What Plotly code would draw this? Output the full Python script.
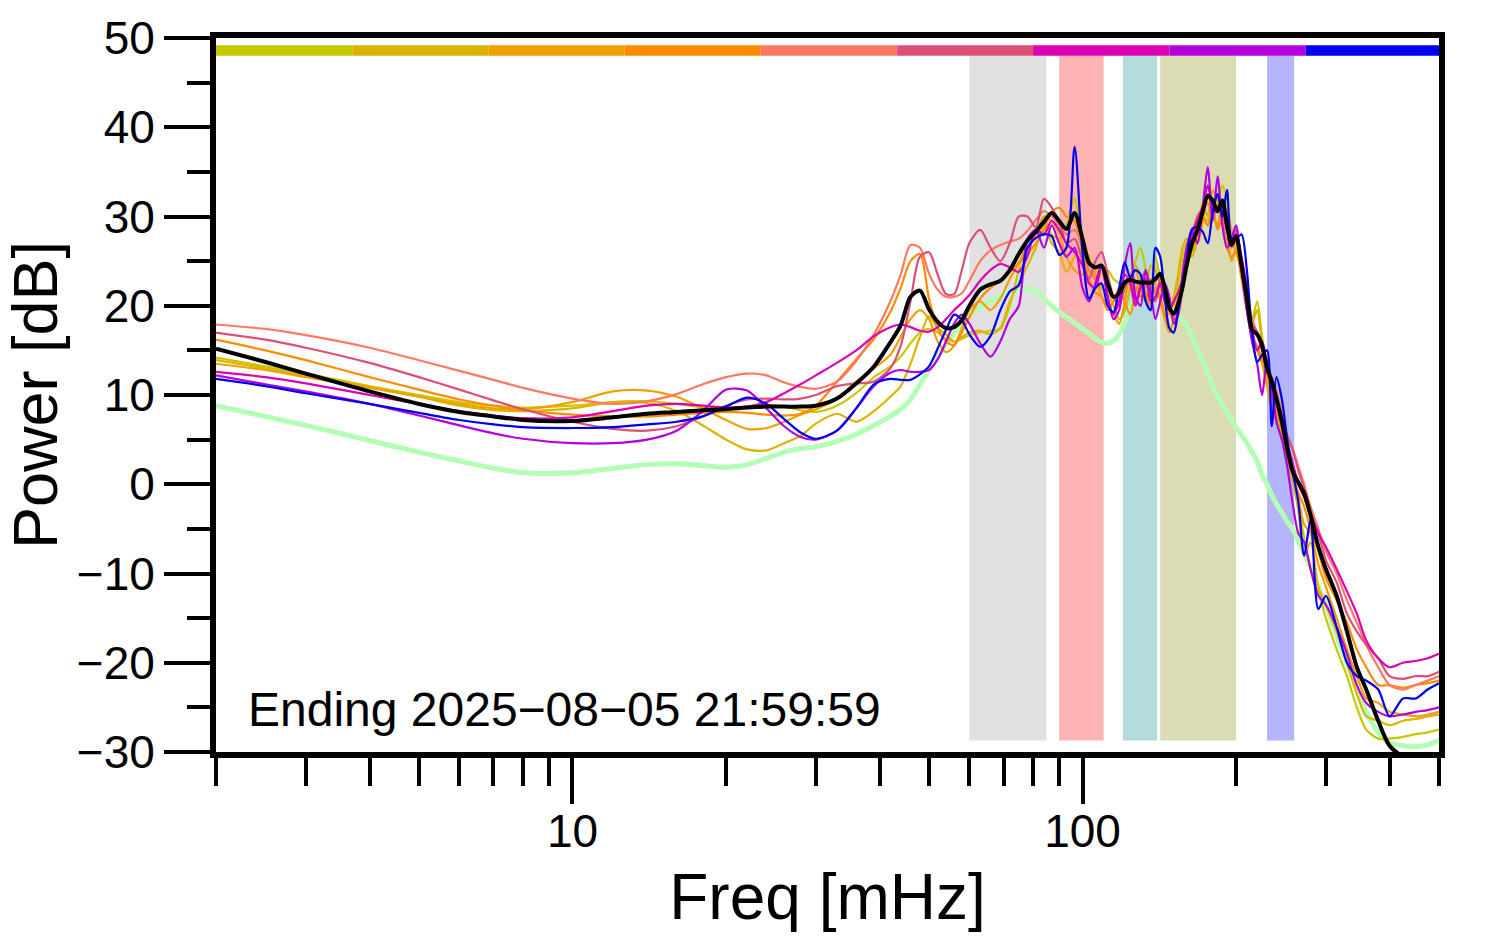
import math
import plotly.graph_objects as go

# ---------------- data ----------------
FREQ = [2, 2.5, 3, 4, 5, 6, 7, 8, 10, 12, 14, 16, 18, 20, 22, 24, 26, 28, 30, 33, 36, 39,
        42, 44, 46, 48, 50, 52, 54, 56, 58, 60, 63, 66, 69, 72, 75, 78, 81, 84, 87, 90, 93, 96.5,
        100, 103, 106, 109, 112, 115, 118, 121, 124, 127, 130, 133, 136, 139, 142, 145, 148, 151, 154, 157,
        160, 164, 168, 172, 176, 180, 184, 188, 192, 196, 200, 205, 210, 215, 220, 225, 230, 235, 240, 246,
        252, 258, 265, 272, 280, 290, 300, 315, 330, 345, 360, 380, 400, 425, 450, 475, 500]

MEAN = [15.2, 13.7, 12.4, 10.4, 9.0, 8.1, 7.6, 7.2, 7.1, 7.5, 7.9, 8.1, 8.3, 8.4, 8.6, 8.7, 8.7, 8.7, 8.8, 9.6, 11.3, 13.2,
        15.9, 17.8, 21.0, 21.7, 19.6, 18.2, 17.5, 17.6, 18.4, 20.0, 21.8, 22.4, 22.8, 24.0, 25.8, 27.3, 28.3, 29.4, 30.4, 29.5, 28.6, 30.4,
        27.5, 24.8, 24.3, 24.5, 22.5, 21.0, 21.4, 22.6, 22.9, 22.7, 22.6, 22.6, 22.6, 23.0, 23.6, 22.0, 19.8, 19.1, 20.2, 22.0,
        24.5, 27.0, 28.5, 30.5, 32.3, 31.8, 30.6, 31.8, 29.0, 26.8, 27.8, 24.5, 21.0, 17.3, 16.8, 15.5, 13.0, 11.5, 9.6, 7.0,
        4.0, 1.5, 0.2, -1.0, -3.5, -7.0, -9.5, -12.5, -16.5, -20.5, -23.0, -26.5, -29.3, -30.5, -31.0, -31.0, -31.0]

REFERENCE = [8.8, 7.6, 6.6, 4.9, 3.6, 2.6, 1.8, 1.3, 1.3, 1.8, 2.2, 2.3, 2.1, 1.9, 2.2, 2.9, 3.6, 4.0, 4.2, 4.8, 5.6, 6.6,
             7.6, 8.4, 9.5, 11.2, 12.8, 14.4, 15.7, 16.9, 18.0, 19.0, 19.8, 20.5, 21.0, 21.5, 21.8, 21.9, 21.6, 20.8, 20.0, 19.3, 18.7, 18.1,
             17.4, 16.9, 16.3, 15.9, 15.8, 16.1, 16.8, 18.2, 19.8, 21.0, 21.7, 22.0, 22.0, 21.8, 21.5, 21.0, 20.4, 19.8, 19.2, 18.5,
             17.8, 16.5, 15.2, 13.8, 12.4, 11.0, 9.9, 8.9, 8.0, 7.2, 6.4, 5.5, 4.6, 3.6, 2.6, 1.0, 0.0, -1.2, -2.2, -3.2,
             -4.2, -5.0, -6.3, -7.8, -9.3, -11.5, -13.5, -17.0, -20.0, -23.0, -25.5, -27.8, -29.0, -29.3, -29.4, -29.2, -28.7]

DAY1 = [14.2, 13.2, 12.4, 11.0, 10.0, 9.2, 8.8, 8.6, 8.8, 9.2, 9.3, 9.0, 8.6, 8.5, 8.7, 8.9, 8.7, 8.3, 8.1, 8.8, 10.2, 12.0,
        13.2, 14.3, 15.8, 17.0, 17.4, 17.0, 16.3, 16.0, 16.3, 16.7, 17.0, 17.2, 17.4, 20.0, 24.0, 27.5, 28.0, 29.5, 28.0, 27.5, 29.0, 32.0,
        27.0, 25.0, 24.0, 23.5, 24.0, 23.0, 22.5, 21.5, 23.0, 25.0, 26.5, 24.0, 22.0, 25.5, 23.0, 21.0, 20.5, 20.0, 22.5, 25.5,
        27.0, 26.0, 28.5, 30.0, 29.5, 31.5, 32.0, 33.5, 31.5, 28.5, 27.0, 25.0, 20.0, 18.5, 20.5, 16.5, 13.0, 9.5, 7.0, 5.0,
        3.5, 1.0, -2.5, -6.0, -9.5, -12.0, -15.0, -18.5, -21.5, -25.0, -27.5, -28.5, -28.5, -28.3, -28.0, -27.8, -27.5]

DAY2 = [13.9, 13.0, 12.2, 10.9, 9.8, 8.8, 8.3, 8.2, 8.5, 9.2, 9.1, 8.2, 6.6, 5.0, 3.9, 3.8, 4.6, 5.4, 6.8, 7.9, 7.0, 8.2,
        9.8, 11.0, 13.5, 16.5, 18.8, 17.5, 16.8, 16.0, 16.5, 17.0, 17.2, 16.8, 17.5, 20.5, 22.5, 24.5, 26.5, 29.0, 27.0, 26.0, 23.8, 25.5,
        26.5, 25.5, 23.0, 22.0, 21.5, 20.0, 18.5, 19.5, 22.0, 24.5, 23.5, 22.0, 24.5, 24.0, 22.0, 20.5, 19.0, 21.0, 23.5, 26.5,
        27.5, 25.5, 27.5, 31.5, 30.0, 33.0, 31.5, 29.5, 30.5, 27.5, 26.0, 24.0, 20.5, 18.0, 19.5, 15.5, 12.0, 10.0, 7.5, 6.0,
        3.0, 0.5, -3.0, -8.0, -6.5, -11.5, -13.5, -16.5, -20.0, -23.5, -26.0, -26.5, -27.0, -26.5, -26.3, -26.0, -25.8]

DAY3 = [13.5, 12.8, 12.0, 10.8, 9.8, 9.0, 8.5, 8.4, 9.2, 10.4, 10.5, 9.8, 8.5, 7.2, 6.2, 6.3, 7.0, 7.8, 8.4, 9.5, 11.5, 13.0,
        14.5, 16.5, 18.5, 19.5, 18.5, 16.0, 14.8, 15.5, 17.5, 19.5, 20.5, 19.5, 20.8, 23.0, 24.8, 26.3, 28.0, 30.0, 29.5, 28.0, 25.5, 24.0,
        23.5, 25.0, 23.5, 21.0, 20.0, 19.0, 18.0, 20.5, 23.5, 24.0, 22.0, 20.5, 22.0, 22.5, 20.5, 18.5, 17.0, 18.5, 21.0, 23.0,
        26.0, 28.0, 27.0, 29.5, 32.5, 30.5, 29.0, 32.0, 28.5, 25.0, 26.5, 23.5, 19.5, 17.0, 15.0, 13.5, 11.0, 8.5, 7.5, 9.0,
        4.5, 2.0, -1.5, -4.5, -5.5, -9.0, -11.5, -15.0, -18.5, -21.5, -24.0, -24.5, -25.5, -25.8, -26.0, -25.8, -25.5]

DAY4 = [16.2, 15.0, 13.9, 12.0, 10.6, 9.5, 8.8, 8.3, 7.8, 7.6, 7.6, 7.8, 8.0, 8.1, 8.0, 7.8, 7.7, 7.9, 8.8, 11.5, 14.0, 16.3,
        19.3, 22.0, 25.0, 25.8, 20.8, 17.5, 16.0, 15.6, 17.0, 18.7, 20.8, 22.0, 22.8, 23.8, 24.8, 25.8, 27.0, 28.5, 30.5, 31.0, 30.0, 29.5,
        26.0, 23.0, 21.5, 21.0, 19.5, 20.5, 22.0, 20.5, 19.0, 21.5, 23.0, 21.5, 20.0, 22.0, 21.0, 19.0, 17.5, 17.0, 19.0, 22.0,
        24.5, 26.5, 28.5, 30.0, 29.0, 31.0, 28.5, 30.0, 26.5, 25.5, 26.0, 23.0, 19.5, 16.5, 15.5, 14.0, 12.5, 10.0, 8.5, 6.0,
        3.5, 1.0, -1.0, -2.5, -5.0, -7.5, -10.5, -13.0, -15.5, -18.5, -20.5, -22.5, -22.5, -22.8, -22.5, -22.3, -22.0]

DAY5 = [17.9, 17.4, 16.7, 15.3, 13.9, 12.7, 11.7, 10.8, 9.6, 9.0, 9.3, 10.1, 11.2, 12.0, 12.4, 12.2, 11.4, 10.9, 10.7, 11.5, 13.8, 16.8,
        20.5, 23.5, 26.8, 26.5, 23.6, 21.8, 21.0, 21.0, 21.4, 22.8, 25.0, 26.2, 26.8, 27.2, 27.5, 28.4, 29.6, 30.6, 30.0, 29.0, 28.0, 28.5,
        26.5, 24.0, 23.0, 24.5, 23.0, 21.0, 20.5, 22.0, 23.5, 22.0, 21.0, 22.5, 23.0, 21.5, 22.5, 21.0, 19.5, 18.5, 20.0, 22.5,
        25.0, 28.0, 29.5, 30.5, 31.5, 30.0, 31.0, 29.5, 27.0, 26.5, 27.0, 24.5, 21.5, 18.5, 17.0, 15.5, 13.0, 12.0, 10.5, 8.0,
        5.0, 4.0, 2.0, 0.0, -2.5, -5.0, -7.5, -10.0, -13.0, -15.5, -18.0, -20.5, -22.5, -23.0, -22.5, -22.0, -21.5]

DAY6 = [17.0, 16.2, 15.3, 13.6, 12.0, 10.6, 9.4, 8.4, 7.0, 6.2, 6.0, 6.5, 7.6, 8.8, 9.5, 9.6, 9.5, 9.6, 10.0, 11.0, 11.3, 11.5,
        13.0, 15.5, 20.5, 25.5, 26.0, 23.5, 21.3, 21.3, 24.0, 27.0, 28.5, 26.5, 25.0, 27.0, 30.0, 30.0, 28.8, 32.0, 31.0, 29.5, 27.0, 27.5,
        25.0, 23.0, 25.0, 26.0, 23.5, 21.0, 20.0, 22.0, 23.0, 20.5, 22.5, 24.0, 21.0, 20.5, 23.0, 21.5, 20.0, 18.5, 19.0, 22.0,
        25.5, 28.0, 30.0, 31.0, 32.5, 31.0, 30.5, 31.5, 28.5, 27.0, 28.5, 25.0, 21.5, 18.0, 17.0, 15.0, 13.5, 12.0, 10.0, 7.5,
        5.5, 4.0, 1.5, -0.5, -3.0, -5.5, -8.5, -11.0, -14.5, -16.5, -18.0, -19.5, -21.5, -21.8, -21.5, -21.5, -21.0]

DAY7 = [12.6, 12.0, 11.3, 10.0, 9.0, 8.2, 7.7, 7.4, 7.5, 8.2, 8.8, 9.0, 8.8, 8.6, 8.7, 9.2, 10.2, 11.2, 12.2, 13.6, 15.0, 16.6,
        17.6, 17.9, 17.6, 17.2, 17.1, 17.6, 18.5, 19.5, 20.3, 21.2, 22.8, 24.0, 24.7, 24.3, 23.8, 25.5, 28.5, 28.0, 29.5, 28.5, 27.0, 26.0,
        24.5, 22.5, 22.0, 24.5, 21.0, 19.0, 20.5, 23.5, 22.5, 20.0, 22.0, 23.0, 20.5, 21.0, 22.5, 20.5, 19.5, 20.5, 21.5, 23.0,
        25.5, 28.0, 29.5, 31.0, 33.5, 31.0, 32.5, 31.0, 28.5, 27.5, 28.0, 25.5, 22.0, 17.5, 15.0, 16.0, 13.5, 11.0, 9.0, 7.5,
        4.5, 2.5, 0.0, -1.5, -3.5, -5.5, -7.0, -9.5, -12.0, -14.5, -17.5, -19.5, -20.5, -20.0, -19.8, -19.5, -19.0]

DAY8 = [12.2, 11.2, 10.4, 9.0, 7.7, 6.6, 5.7, 5.1, 4.6, 4.6, 5.0, 6.0, 8.2, 10.6, 10.5, 8.5, 6.5, 5.3, 5.0, 6.0, 8.5, 11.0,
        12.5, 12.8, 12.6, 12.6, 12.8, 14.0, 16.0, 18.0, 19.0, 18.0, 15.8, 14.3, 16.0, 18.5, 20.0, 27.5, 28.5, 26.5, 29.0, 27.0, 25.5, 26.5,
        22.0, 20.5, 22.5, 24.5, 21.0, 18.5, 19.5, 24.5, 27.0, 21.0, 20.0, 24.0, 21.5, 18.5, 20.5, 22.5, 21.0, 18.0, 19.0, 23.5,
        26.5, 28.5, 27.0, 31.0, 35.5, 29.5, 34.5, 29.0, 26.5, 27.5, 29.0, 24.0, 19.5, 16.0, 13.5, 10.0, 14.0, 11.0, 7.0, 5.0,
        2.0, -2.0, -5.5, -6.5, -9.5, -12.5, -13.5, -16.0, -19.0, -22.5, -24.5, -25.5, -26.0, -25.8, -25.5, -25.3, -25.0]

DAY9 = [11.8, 11.0, 10.2, 9.0, 8.0, 7.2, 6.7, 6.4, 6.3, 6.4, 6.7, 7.0, 7.6, 8.7, 9.7, 9.0, 7.3, 5.8, 5.1, 6.0, 8.5, 11.2,
        11.8, 11.7, 11.7, 12.3, 13.2, 15.2, 17.3, 19.0, 18.4, 16.8, 15.4, 16.6, 19.5, 21.6, 22.3, 26.5, 27.6, 28.0, 27.8, 25.7, 26.5, 37.8,
        26.0, 20.8, 22.0, 22.5, 20.0, 19.3, 22.0, 24.9, 23.2, 24.0, 23.5, 20.5, 19.5, 26.5, 25.5, 21.0, 17.5, 17.0, 19.5, 21.9,
        25.0, 28.6, 28.8, 28.3, 27.0, 30.5, 32.5, 30.0, 33.0, 27.5, 27.5, 28.0, 24.0, 17.0, 13.7, 14.5, 15.0, 6.5, 12.0, 9.5,
        5.0, 1.5, -2.0, -8.0, -4.0, -14.0, -12.5, -16.0, -20.0, -21.5, -22.0, -23.0, -26.0, -24.0, -24.0, -23.0, -22.3]

DAY_SERIES = [DAY1, DAY2, DAY3, DAY4, DAY5, DAY6, DAY7, DAY8, DAY9]
DAY_COLORS = ["#c8c800", "#dcb400", "#f0a000", "#ff8c00", "#ff7864",
              "#dc5078", "#dc00b4", "#b400dc", "#0000f0"]

# colour strip along the top (one segment per series)
STRIP_EDGES = [2, 3.70, 6.84, 12.65, 23.4, 43.3, 80.0, 148.0, 274.0, 500]
STRIP_Y = [48.0, 49.2]

# shaded frequency bands
BAND_LO = [60, 90, 120, 142, 230]
BAND_HI = [85, 110, 140, 200, 260]
BAND_COLORS = ["#e1e1e1", "#ffb4b4", "#b4dcdc", "#dcdcb4", "#b4b4ff"]
BAND_Y = [-28.7, 48.0]

X_RANGE = [2, 500]
Y_RANGE = [-30, 50]
X_TICKS = [10, 100]
X_MINOR = [2, 3, 4, 5, 6, 7, 8, 9, 20, 30, 40, 50, 60, 70, 80, 90, 200, 300, 400, 500]
Y_TICKS = [-30, -20, -10, 0, 10, 20, 30, 40, 50]
Y_MINOR = [-25, -15, -5, 5, 15, 25, 35, 45]

LABEL = "Ending 2025\u221208\u221205 21:59:59"

FONT = "Liberation Sans, Arial, Helvetica, sans-serif"

# ---------------- figure ----------------
fig = go.Figure()

for lo, hi, col in zip(BAND_LO, BAND_HI, BAND_COLORS):
    fig.add_trace(go.Scatter(x=[lo, hi, hi, lo, lo],
                             y=[BAND_Y[0], BAND_Y[0], BAND_Y[1], BAND_Y[1], BAND_Y[0]],
                             fill="toself", fillcolor=col, mode="lines",
                             line=dict(width=0, color=col), hoverinfo="skip", showlegend=False))

for i, col in enumerate(DAY_COLORS):
    lo, hi = STRIP_EDGES[i], STRIP_EDGES[i + 1]
    fig.add_trace(go.Scatter(x=[lo, hi, hi, lo, lo],
                             y=[STRIP_Y[0], STRIP_Y[0], STRIP_Y[1], STRIP_Y[1], STRIP_Y[0]],
                             fill="toself", fillcolor=col, mode="lines",
                             line=dict(width=0, color=col), hoverinfo="skip", showlegend=False))

fig.add_trace(go.Scatter(x=FREQ, y=REFERENCE, mode="lines",
                         line=dict(color="#b3ffb3", width=5, shape="spline", smoothing=0.8),
                         showlegend=False))

for vals, col in zip(DAY_SERIES, DAY_COLORS):
    fig.add_trace(go.Scatter(x=FREQ, y=vals, mode="lines",
                             line=dict(color=col, width=2.2, shape="spline", smoothing=0.8),
                             showlegend=False))

fig.add_trace(go.Scatter(x=FREQ, y=MEAN, mode="lines",
                         line=dict(color="black", width=4, shape="spline", smoothing=0.8),
                         showlegend=False))

fig.add_annotation(text=LABEL, xref="paper", yref="y", x=0.0245, y=-25.2,
                   xanchor="left", yanchor="middle", showarrow=False,
                   font=dict(family=FONT, size=48, color="black"))

fig.update_xaxes(type="log", range=[math.log10(X_RANGE[0]), math.log10(X_RANGE[1])],
                 tickmode="array", tickvals=X_TICKS, ticktext=[str(v) for v in X_TICKS],
                 ticks="outside", ticklen=46, tickwidth=4, tickcolor="black",
                 ticklabelstandoff=-12,
                 minor=dict(tickmode="array", tickvals=X_MINOR, ticks="outside", ticklen=28,
                            tickwidth=4, tickcolor="black", showgrid=False),
                 showline=True, linewidth=6, linecolor="black", mirror=True,
                 showgrid=False, zeroline=False,
                 tickfont=dict(family=FONT, size=46, color="black"),
                 title=dict(text="Freq [mHz]", font=dict(family=FONT, size=64, color="black"), standoff=20))

fig.update_yaxes(range=Y_RANGE, tickmode="array", tickvals=Y_TICKS,
                 ticks="outside", ticklen=46, tickwidth=4, tickcolor="black",
                 minor=dict(tickmode="array", tickvals=Y_MINOR, ticks="outside", ticklen=23,
                            tickwidth=4, tickcolor="black", showgrid=False),
                 showline=True, linewidth=6, linecolor="black", mirror=True,
                 showgrid=False, zeroline=False,
                 tickfont=dict(family=FONT, size=46, color="black"),
                 title=dict(text="Power [dB]", font=dict(family=FONT, size=63, color="black"), standoff=18))

fig.update_layout(width=1494, height=952,
                  margin=dict(l=216, r=55, t=35, b=200, pad=0),
                  paper_bgcolor="white", plot_bgcolor="white",
                  showlegend=False)

fig.write_html("out.html", config={"displayModeBar": False},
               post_script="document.body.style.margin='0';")
